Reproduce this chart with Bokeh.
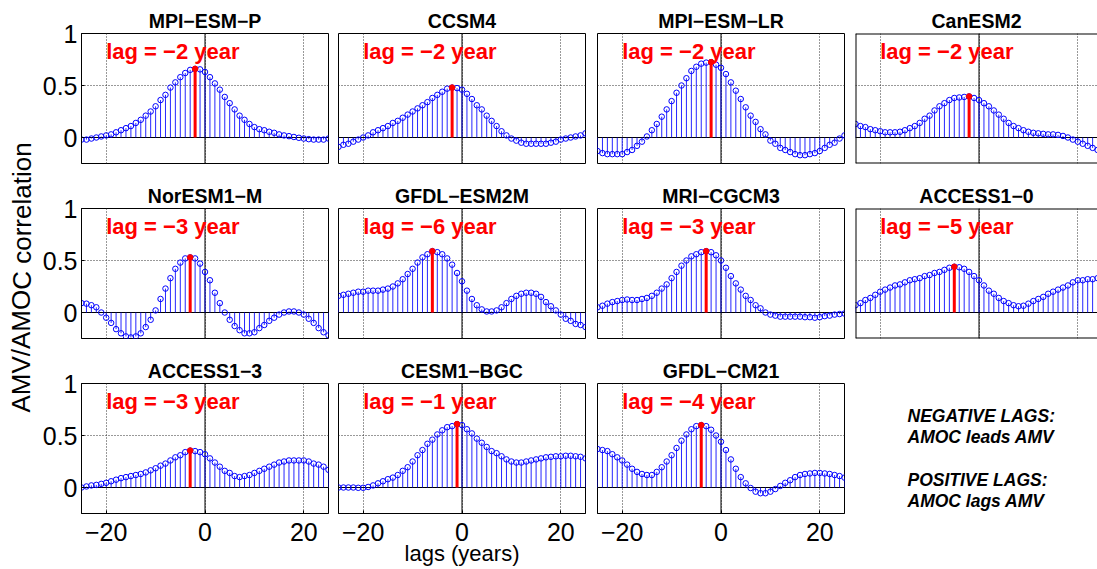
from bokeh.plotting import figure
from bokeh.layouts import row, column
from bokeh.models import Range1d, FixedTicker, Span
from bokeh.core.properties import value
from bokeh.embed import file_html
from bokeh.resources import INLINE

FONT = "Liberation Sans"

# ---------------- data ----------------
lags = list(range(-25, 26))

models = ["MPI−ESM−P", "CCSM4", "MPI−ESM−LR", "CanESM2",
          "NorESM1−M", "GFDL−ESM2M", "MRI−CGCM3", "ACCESS1−0",
          "ACCESS1−3", "CESM1−BGC", "GFDL−CM21"]

mpi_esm_p = [-0.02, -0.02, -0.01, 0.00, 0.01, 0.02, 0.03, 0.05, 0.07, 0.09, 0.11, 0.14, 0.17,
             0.21, 0.25, 0.30, 0.36, 0.41, 0.48, 0.53, 0.58, 0.62, 0.65, 0.66, 0.655,
             0.63, 0.58, 0.52, 0.46, 0.39, 0.33, 0.27, 0.21, 0.17, 0.13, 0.10, 0.08, 0.07,
             0.055, 0.045, 0.03, 0.02, 0.013, 0.005, -0.003, -0.01, -0.016, -0.02, -0.02, -0.02, -0.01]
ccsm4 = [-0.09, -0.07, -0.06, -0.04, -0.02, 0.00, 0.02, 0.05, 0.07, 0.09, 0.11, 0.14, 0.16,
         0.19, 0.22, 0.25, 0.28, 0.31, 0.34, 0.38, 0.41, 0.44, 0.47, 0.48, 0.475,
         0.46, 0.42, 0.37, 0.31, 0.27, 0.21, 0.16, 0.11, 0.06, 0.02, -0.01, -0.03, -0.05,
         -0.06, -0.06, -0.06, -0.06, -0.06, -0.05, -0.04, -0.02, -0.01, 0.00, 0.01, 0.02, 0.04]
mpi_esm_lr = [-0.13, -0.15, -0.16, -0.16, -0.16, -0.16, -0.14, -0.12, -0.08, -0.04, 0.01, 0.07, 0.13,
              0.20, 0.27, 0.35, 0.43, 0.50, 0.57, 0.64, 0.68, 0.71, 0.72, 0.725, 0.70,
              0.67, 0.61, 0.53, 0.45, 0.37, 0.29, 0.21, 0.15, 0.08, 0.03, -0.03, -0.06, -0.10,
              -0.12, -0.14, -0.16, -0.17, -0.17, -0.16, -0.15, -0.13, -0.10, -0.07, -0.05, -0.01, 0.02]
canesm2 = [0.13, 0.11, 0.10, 0.08, 0.07, 0.06, 0.05, 0.05, 0.05, 0.055, 0.07, 0.09, 0.11,
           0.14, 0.18, 0.21, 0.26, 0.30, 0.33, 0.36, 0.38, 0.385, 0.39, 0.395, 0.38,
           0.36, 0.33, 0.30, 0.26, 0.22, 0.18, 0.14, 0.11, 0.09, 0.07, 0.055, 0.045, 0.04,
           0.035, 0.03, 0.03, 0.025, 0.015, 0.00, -0.02, -0.04, -0.06, -0.08, -0.10, -0.12, -0.14]
noresm1_m = [0.09, 0.085, 0.07, 0.05, 0.00, -0.05, -0.10, -0.16, -0.20, -0.23, -0.24, -0.23, -0.20,
             -0.14, -0.07, 0.02, 0.13, 0.23, 0.33, 0.42, 0.48, 0.52, 0.53, 0.52, 0.47,
             0.39, 0.31, 0.19, 0.09, 0.00, -0.07, -0.13, -0.17, -0.20, -0.20, -0.19, -0.15, -0.12,
             -0.08, -0.05, -0.02, 0.00, 0.01, 0.01, 0.00, -0.02, -0.06, -0.10, -0.15, -0.19, -0.22]
gfdl_esm2m = [0.16, 0.17, 0.18, 0.19, 0.20, 0.20, 0.21, 0.21, 0.21, 0.22, 0.23, 0.25, 0.28,
              0.32, 0.37, 0.42, 0.48, 0.53, 0.56, 0.59, 0.58, 0.56, 0.52, 0.46, 0.38,
              0.30, 0.21, 0.13, 0.07, 0.03, 0.01, 0.01, 0.02, 0.05, 0.09, 0.13, 0.16, 0.18,
              0.19, 0.19, 0.18, 0.15, 0.10, 0.06, 0.02, -0.02, -0.06, -0.08, -0.11, -0.12, -0.14]
mri_cgcm3 = [0.05, 0.065, 0.085, 0.10, 0.11, 0.12, 0.125, 0.12, 0.12, 0.13, 0.14, 0.16, 0.19,
             0.23, 0.27, 0.33, 0.39, 0.45, 0.50, 0.54, 0.56, 0.58, 0.59, 0.58, 0.55,
             0.50, 0.43, 0.35, 0.28, 0.22, 0.16, 0.12, 0.07, 0.04, 0.00, -0.02, -0.03, -0.04,
             -0.04, -0.04, -0.04, -0.04, -0.045, -0.045, -0.05, -0.045, -0.035, -0.03, -0.02, -0.015, -0.01]
access1_0 = [0.07, 0.09, 0.12, 0.14, 0.17, 0.20, 0.22, 0.24, 0.26, 0.27, 0.29, 0.31, 0.32,
             0.33, 0.35, 0.36, 0.38, 0.39, 0.41, 0.43, 0.44, 0.435, 0.42, 0.39, 0.35,
             0.31, 0.26, 0.21, 0.18, 0.14, 0.11, 0.09, 0.07, 0.06, 0.065, 0.085, 0.11, 0.13,
             0.15, 0.18, 0.20, 0.22, 0.24, 0.26, 0.29, 0.31, 0.31, 0.32, 0.32, 0.33, 0.33]
access1_3 = [0.00, 0.01, 0.02, 0.025, 0.035, 0.045, 0.06, 0.075, 0.09, 0.10, 0.11, 0.12, 0.13,
             0.145, 0.165, 0.185, 0.21, 0.23, 0.26, 0.29, 0.31, 0.34, 0.355, 0.35, 0.34,
             0.32, 0.28, 0.24, 0.20, 0.16, 0.14, 0.11, 0.10, 0.11, 0.12, 0.14, 0.16, 0.18,
             0.20, 0.22, 0.24, 0.25, 0.26, 0.26, 0.26, 0.26, 0.25, 0.23, 0.22, 0.20, 0.17]
cesm1_bgc = [0.00, 0.00, 0.00, 0.00, -0.003, -0.003, 0.005, 0.02, 0.04, 0.06, 0.08, 0.095, 0.12,
             0.16, 0.195, 0.25, 0.31, 0.36, 0.42, 0.46, 0.51, 0.55, 0.58, 0.59, 0.61,
             0.60, 0.56, 0.52, 0.47, 0.43, 0.39, 0.35, 0.33, 0.30, 0.27, 0.25, 0.24, 0.24,
             0.25, 0.26, 0.27, 0.28, 0.29, 0.295, 0.30, 0.30, 0.305, 0.305, 0.30, 0.295, 0.28]
gfdl_cm21 = [0.37, 0.36, 0.35, 0.32, 0.29, 0.26, 0.22, 0.18, 0.15, 0.13, 0.12, 0.12, 0.15,
             0.195, 0.25, 0.31, 0.38, 0.45, 0.51, 0.56, 0.59, 0.60, 0.59, 0.555, 0.50,
             0.44, 0.36, 0.27, 0.18, 0.10, 0.04, -0.005, -0.04, -0.055, -0.055, -0.04, -0.015, 0.015,
             0.045, 0.07, 0.10, 0.12, 0.13, 0.135, 0.14, 0.14, 0.135, 0.13, 0.12, 0.11, 0.095]

series = [mpi_esm_p, ccsm4, mpi_esm_lr, canesm2,
          noresm1_m, gfdl_esm2m, mri_cgcm3, access1_0,
          access1_3, cesm1_bgc, gfdl_cm21]
peak_lags = [-2, -2, -2, -2, -3, -6, -3, -5, -3, -1, -4]

x_ticks = [-20, 0, 20]
x_tick_labels = ["−20", "0", "20"]
y_ticks = [0, 0.5, 1]
y_tick_labels = ["0", "0.5", "1"]

y_label = "AMV/AMOC correlation"
x_label = "lags (years)"
note_lines = ["NEGATIVE LAGS:", "AMOC leads AMV", "POSITIVE LAGS:", "AMOC lags AMV"]

# ---------------- layout / style ----------------
BLUE = "#0000ff"
RED = "#ff0000"
FW = 247
FH = 130
TOP = 33
YLAB_W = 36
col_borders = [(81 - YLAB_W, 5), (5, 6), (6, 5), (6, 0)]
row_bottoms = [12, 12, 56]


def panel(name, vals, peak, ci, ri, show_x, show_y, xlab):
    left, right = col_borders[ci]
    fw = FW if ci < 3 else 242
    x_end = -25 + 50 * fw / FW
    bottom = row_bottoms[ri]
    p = figure(width=left + fw + right, height=TOP + FH + bottom,
               x_range=Range1d(-25, x_end), y_range=Range1d(-0.25, 1.0),
               toolbar_location=None, output_backend="svg",
               min_border_left=left, min_border_right=right,
               min_border_top=TOP, min_border_bottom=bottom, title=name)
    p.title.align = "center"
    p.title.text_font = FONT
    p.title.text_font_size = "19.5px"
    p.title.text_font_style = "bold"
    p.title.text_color = "black"
    p.title.standoff = 4
    p.background_fill_color = "white"
    p.border_fill_color = "white"
    if ci < 3:
        p.outline_line_color = "black"
        p.outline_line_alpha = 1.0
        p.outline_line_width = 1
    else:
        p.outline_line_color = None
        p.add_layout(Span(location=1.0, dimension="width", line_color="black", line_width=2))
        p.add_layout(Span(location=-0.25, dimension="width", line_color="black", line_width=2))
        p.add_layout(Span(location=-25, dimension="height", line_color="black", line_width=2))

    xa = p.xaxis[0]
    ya = p.yaxis[0]
    xa.ticker = FixedTicker(ticks=x_ticks)
    xa.major_label_overrides = dict(zip(x_ticks, x_tick_labels))
    ya.ticker = FixedTicker(ticks=y_ticks)
    ya.major_label_overrides = dict(zip(y_ticks, y_tick_labels))
    for ax in (xa, ya):
        ax.major_tick_in = 3
        ax.major_tick_out = 0
        ax.minor_tick_in = 0
        ax.minor_tick_out = 0
        ax.axis_line_color = "black"
        ax.major_tick_line_color = "black"
        ax.major_label_text_font = FONT
        ax.major_label_text_color = "black"
        ax.major_label_text_font_size = "25px"
    xa.major_label_standoff = 9
    ya.major_label_standoff = 4
    xa.visible = show_x
    ya.visible = show_y
    if xlab:
        xa.axis_label = xlab
        xa.axis_label_text_font = FONT
        xa.axis_label_text_font_size = "22px"
        xa.axis_label_text_font_style = "normal"
        xa.axis_label_text_color = "black"
        xa.axis_label_standoff = -3

    p.xgrid[0].ticker = FixedTicker(ticks=x_ticks)
    p.ygrid[0].ticker = FixedTicker(ticks=y_ticks)
    for g in (p.xgrid[0], p.ygrid[0]):
        g.grid_line_color = "#333333"
        g.grid_line_dash = "1 2"
        g.grid_line_width = 1

    p.add_layout(Span(location=0, dimension="height", line_color="black", line_width=1, level="underlay"))
    p.add_layout(Span(location=0, dimension="width", line_color="black", line_width=1, level="underlay"))

    p.segment(x0=lags, y0=[0] * len(lags), x1=lags, y1=vals, line_color=BLUE, line_width=1, line_alpha=0.85)
    p.scatter(lags, vals, marker="circle", size=5.5, fill_color=None, line_color=BLUE, line_width=1)

    pv = vals[lags.index(peak)]
    p.segment(x0=[peak], y0=[0], x1=[peak], y1=[pv], line_color=RED, line_width=3)
    p.scatter([peak], [pv], marker="circle", size=5.5, fill_color=RED, line_color=RED, line_width=1)

    p.text(x=[-20], y=[0.83], text=["lag = −%d year" % abs(peak)], text_color=RED,
           text_font=value(FONT), text_font_style="bold", text_font_size="22px",
           text_align="left", text_baseline="alphabetic")
    return p


panels = []
for i, (name, vals, pk) in enumerate(zip(models, series, peak_lags)):
    ri, ci = divmod(i, 4)
    show_x = (ri == 2)
    show_y = (ci == 0)
    xlab = x_label if (ri == 2 and ci == 1) else None
    panels.append(panel(name, vals, pk, ci, ri, show_x, show_y, xlab))

# note panel (row 3, col 4): frame aligned with the other panels of the row
note = figure(width=248, height=TOP + FH + row_bottoms[2], x_range=Range1d(0, 242),
              y_range=Range1d(0, FH), toolbar_location=None,
              output_backend="svg", min_border_left=6, min_border_right=0,
              min_border_top=TOP, min_border_bottom=row_bottoms[2], title=None,
              x_axis_location=None, y_axis_location=None)
note.grid.visible = False
note.outline_line_color = None
note.text(x=[52, 52, 52, 52], y=[98, 77, 34, 13], text=note_lines, text_color="black",
          text_font=value(FONT), text_font_style="bold italic", text_font_size="17.5px",
          text_align="left", text_baseline="alphabetic")
panels.append(note)

# y-label strip
ylab = figure(width=YLAB_W, height=569, x_range=Range1d(0, YLAB_W), y_range=Range1d(0, 569),
              toolbar_location=None, output_backend="svg", min_border=0, title=None,
              x_axis_location=None, y_axis_location=None)
ylab.grid.visible = False
ylab.outline_line_color = None
ylab.text(x=[21], y=[569 - 277], text=[y_label], angle=[1.5707963], text_color="black",
          text_font=value(FONT), text_font_size="26px", text_align="center", text_baseline="middle")

grid = column(row(*panels[0:4], spacing=0), row(*panels[4:8], spacing=0),
              row(*panels[8:12], spacing=0), spacing=0)
layout = row(ylab, grid, spacing=0)

open("out.html", "w").write(file_html(layout, INLINE))
